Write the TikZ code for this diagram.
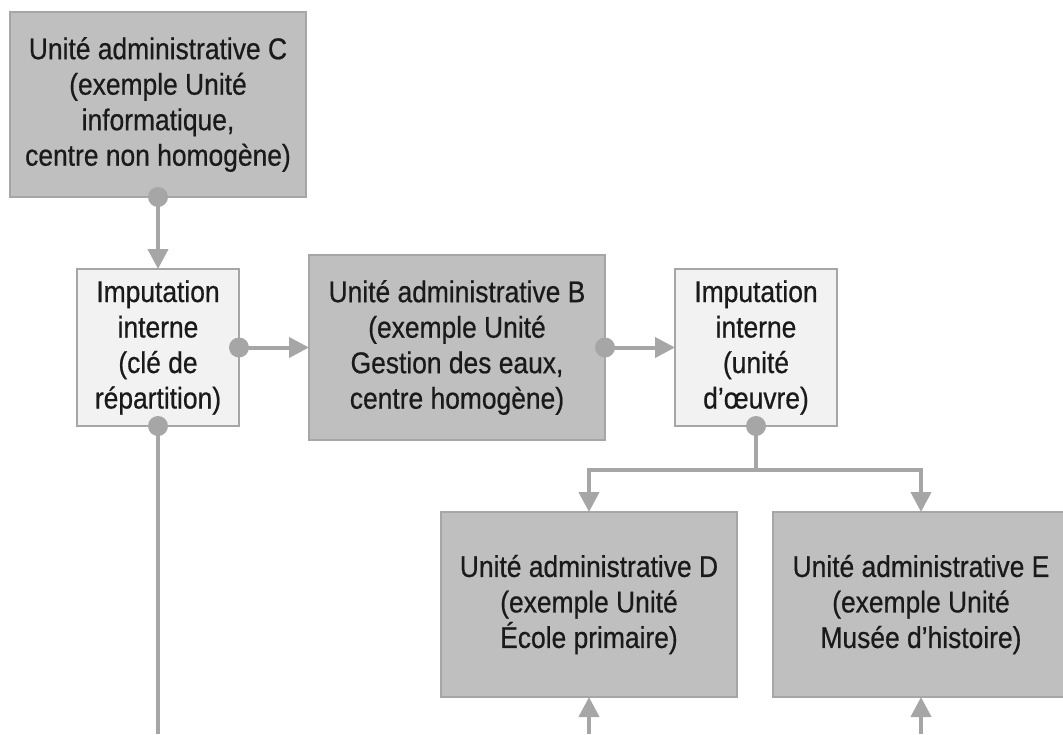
\documentclass[tikz,border=0pt]{standalone}
\usepackage{fontspec}
\setmainfont[FakeStretch=0.88,FakeBold=0.6]{Liberation Sans}
\usetikzlibrary{arrows.meta,positioning}

\definecolor{fondfonce}{HTML}{BFBFBF}
\definecolor{fondclair}{HTML}{F2F2F2}
\definecolor{trait}{HTML}{A6A6A6}
\definecolor{texte}{HTML}{1A1A1A}

\begin{document}
\begin{tikzpicture}[x=1pt,y=-1pt,font=\fontsize{30pt}{35.5pt}\selectfont,text=texte]
	  \tikzstyle{unite}=[rectangle,draw=trait,line width=2pt,fill=fondfonce,align=center,
	    minimum width=296pt,minimum height=185pt,inner sep=0pt,outer sep=0pt]
	  \tikzstyle{imputation}=[unite,fill=fondclair,minimum width=162pt,minimum height=157pt]
	  \tikzstyle{lien}=[draw=trait,line width=4pt,-{Triangle[length=20pt,width=20pt]}]
	  \tikzstyle{fil}=[draw=trait,line width=4pt]

	  \useasboundingbox (0,0) rectangle (1063,734);

	  \node[unite] (C) at (158,104.5) {Unité administrative C\\(exemple Unité\\informatique,\\centre non homogène)};
	  \node[imputation] (I1) [below=72pt of C] {Imputation\\interne\\(clé de\\répartition)};
	  \node[unite] (B) [right=70pt of I1] {Unité administrative B\\(exemple Unité\\Gestion des eaux,\\centre homogène)};
	  \node[imputation] (I2) [right=70pt of B] {Imputation\\interne\\(unité\\d’œuvre)};
	  \node[unite] (D) at (589,604.5) {Unité administrative D\\(exemple Unité\\École primaire)};
	  \node[unite] (E) [right=36pt of D] {Unité administrative E\\(exemple Unité\\Musée d’histoire)};

	  % bouts libres en bas
	  \coordinate (basI1) at (158,734);
	  \coordinate (basD) at (589,734);
	  \coordinate (basE) at (921,734);

	  \draw[lien] (C.south) -- (I1.north);
	  \draw[lien] (I1.east) -- (B.west);
	  \draw[lien] (B.east) -- (I2.west);
	  \draw[lien] (I2.south) -- ++(0,44) -| (D.north);
	  \draw[lien] (I2.south) -- ++(0,44) -| (E.north);
	  \draw[fil] (I1.south) -- (basI1);
	  \draw[lien] (basD) -- (D.south);
	  \draw[lien] (basE) -- (E.south);

	  \foreach \p in {C.south,I1.east,I1.south,B.east,I2.south}
	    \fill[trait] (\p) circle (10pt);
	\end{tikzpicture}
\end{document}
